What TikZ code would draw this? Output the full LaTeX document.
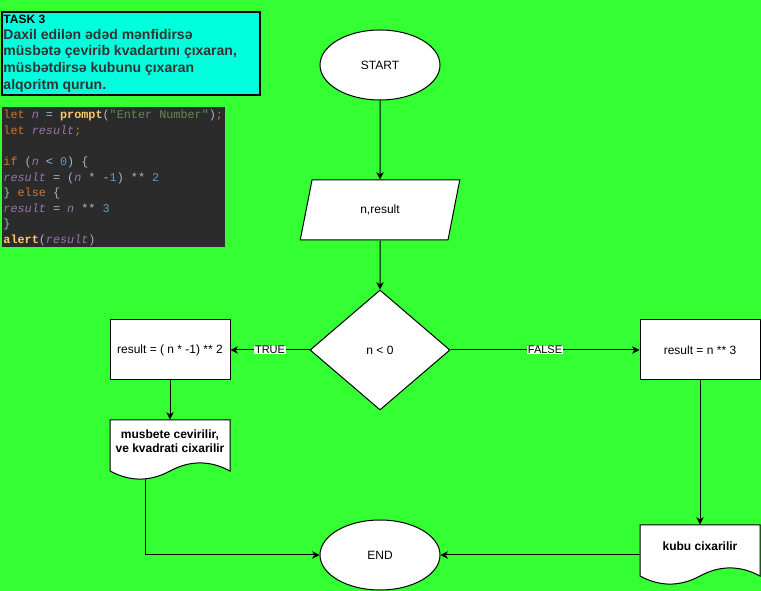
\documentclass[tikz,border=0pt]{standalone}
\usepackage{fontspec}
\setmainfont{Liberation Sans}
\setmonofont{Liberation Mono}
\usetikzlibrary{arrows.meta,shapes.geometric}

\definecolor{bggreen}{HTML}{33FF33}
\definecolor{taskcyan}{HTML}{00FFDD}
\definecolor{taskgray}{HTML}{333333}
\definecolor{codebg}{HTML}{2B2B2B}
\definecolor{kwcol}{HTML}{CC7832}
\definecolor{varcol}{HTML}{9876AA}
\definecolor{fncol}{HTML}{FFC66D}
\definecolor{strcol}{HTML}{6A8759}
\definecolor{numcol}{HTML}{6897BB}
\definecolor{txtcol}{HTML}{A9B7C6}

\newcommand\ckw[1]{\textcolor{kwcol}{#1}}
\newcommand\cvar[1]{\textcolor{varcol}{\textit{#1}}}
\newcommand\cfn[1]{\textcolor{fncol}{\textbf{#1}}}
\newcommand\cstr[1]{\textcolor{strcol}{#1}}
\newcommand\cnum[1]{\textcolor{numcol}{#1}}

% document symbol with a wavy bottom, (centre x, top y) in px
\def\docshape(#1,#2){\draw[docline] ({#1-60},{#2}) -- ({#1+60},{#2}) -- ({#1+60},{#2+51})
	.. controls ({#1+40},{#2+40.2}) and ({#1+20},{#2+40.2}) .. ({#1},{#2+51})
	.. controls ({#1-20},{#2+61.8}) and ({#1-40},{#2+61.8}) .. ({#1-60},{#2+51}) -- cycle;}

\tikzset{
	terminal/.style={ellipse, draw, fill=white, minimum width=90pt, minimum height=52.5pt, inner sep=0pt, font=\fontsize{9}{11}\selectfont},
	iobox/.style={trapezium, trapezium left angle=71.57, trapezium right angle=108.43, trapezium stretches=true, draw, fill=white, minimum width=120pt, minimum height=45pt, inner sep=0pt, font=\fontsize{9}{11}\selectfont},
	decision/.style={diamond, draw, fill=white, minimum width=105pt, minimum height=90pt, inner sep=0pt, font=\fontsize{9}{11}\selectfont},
	process/.style={rectangle, draw, fill=white, minimum width=90pt, minimum height=45pt, inner sep=0pt, font=\fontsize{9}{11}\selectfont},
	doctext/.style={minimum width=90pt, minimum height=31.5pt, inner sep=0pt, align=center, font=\bfseries\fontsize{9}{10.5}\selectfont},
	docline/.style={draw, fill=white},
	flowarrow/.style={-{Stealth[length=5.5pt,width=5.5pt,inset=1.6pt]}},
	edgelabel/.style={fill=white, inner sep=0.4pt, font=\fontsize{8.25}{10}\selectfont},
	codeline/.style={anchor=base west, inner sep=0pt, text=txtcol, font=\ttfamily\fontsize{8.85}{10}\selectfont},
	taskline/.style={anchor=base west, inner sep=0pt, text=taskgray, font=\bfseries\fontsize{10.5}{12.5}\selectfont}
}

\begin{document}
\begin{tikzpicture}[x=0.75pt, y=-0.75pt, line width=0.75pt]
	%%%%% BACKGROUND %%%%%
	\fill[bggreen] (0,0) rectangle (761,591);
	\useasboundingbox (0,0) rectangle (761,591);
	
	%%%%% TASK %%%%%
	\draw[fill=taskcyan, line width=1.1pt] (2,12) rectangle (260,95);
	\node[anchor=base west, inner sep=0pt, font=\bfseries\fontsize{9}{11}\selectfont] (tasktitle) at (3,24) {TASK 3};
	\node[taskline] (taskline1) at (3,39.3) {Daxil edilən ədəd mənfidirsə};
	\node[taskline] (taskline2) at (3,56) {müsbətə çevirib kvadartını çıxaran,};
	\node[taskline] (taskline3) at (3,72.7) {müsbətdirsə kubunu çıxaran};
	\node[taskline] (taskline4) at (3,89.3) {alqoritm qurun.};
	
	%%%%% CODE %%%%%
	\fill[codebg] (2,107) rectangle (225,247);
	\node[codeline] (code1) at (3,119) {\ckw{let} \cvar{n} = \cfn{prompt}(\cstr{"Enter Number"})\ckw{;}};
	\node[codeline] (code2) at (3,134.5) {\ckw{let} \cvar{result}\ckw{;}};
	\node[codeline] (code4) at (3,165.6) {\ckw{if} (\cvar{n} < \cnum{0}) \{};
	\node[codeline] (code5) at (3,181.2) {\cvar{result} = (\cvar{n} * -\cnum{1}) ** \cnum{2}};
	\node[codeline] (code6) at (3,196.7) {\} \ckw{else} \{};
	\node[codeline] (code7) at (3,212.2) {\cvar{result} = \cvar{n} ** \cnum{3}};
	\node[codeline] (code8) at (3,227.8) {\}};
	\node[codeline] (code9) at (3,243.3) {\cfn{alert}(\cvar{result})};
	
	%%%%% FLOWCHART %%%%%
	\node[terminal] (start) at (380,65) {START};
	\node[iobox] (io) at (380,210) {n,result};
	\node[decision] (cond) at (380,350) {n < 0};
	\node[process] (negres) at (170,350) {result = ( n * -1) ** 2};
	\node[process] (posres) at (700,350) {result = n ** 3};
	
	\docshape(170,420)
	\node[doctext] (negdoc) at (170,441) {musbete cevirilir,\\ve kvadrati cixarilir};
	\coordinate (negwave) at (145,478.9);
	
	\docshape(700,525)
	\node[doctext] (posdoc) at (700,546) {kubu cixarilir};
	
	\node[terminal] (finish) at (380,555) {END};
	
	\draw[flowarrow] (start) -- (io);
	\draw[flowarrow] (io) -- (cond);
	\draw[flowarrow] (cond) -- node[edgelabel] {TRUE} (negres);
	\draw[flowarrow] (cond) -- node[edgelabel] {FALSE} (posres);
	\draw[flowarrow] (negres) -- (negdoc);
	\draw[flowarrow] (posres) -- (posdoc);
	\draw[flowarrow] (negwave) |- (finish);
	\draw[flowarrow] (posdoc.west |- finish) -- (finish);
	
\end{tikzpicture}
\end{document}
